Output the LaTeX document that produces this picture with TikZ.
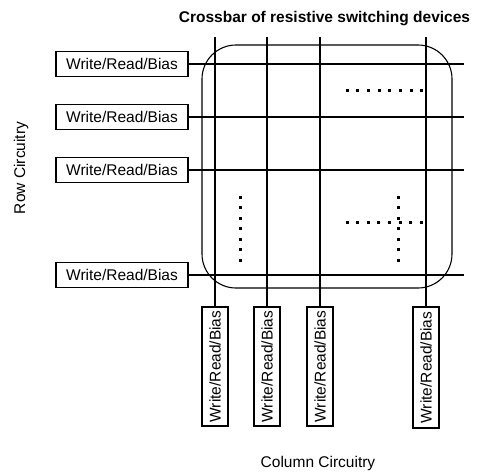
\documentclass[tikz,border=0pt]{standalone}
\usepackage{fontspec}
\setmainfont{Liberation Sans}
\begin{document}
\begin{tikzpicture}[x=1pt,y=-1pt,
  every path/.style={line width=1.1pt},
  ctrl/.style={draw, line width=1.1pt, minimum width=132pt, minimum height=25pt, inner sep=0pt, font=\fontsize{15.5}{17}\selectfont},
  ctrlv/.style={draw, line width=1.1pt, minimum width=119pt, minimum height=26pt, inner sep=0pt, rotate=90, font=\fontsize{15.5}{17}\selectfont},
  lbl/.style={font=\fontsize{15.5}{17}\selectfont, inner sep=0pt},
  dotm/.style={fill=black, inner sep=0pt, minimum size=3pt, draw=none}]
\useasboundingbox (0,0) rectangle (478,474);
% title
\node[lbl, font=\bfseries\fontsize{15.5}{17}\selectfont] (title) at (324.5,19) {Crossbar of resistive switching devices};
% rounded rectangle
\draw[rounded corners=34pt] (202,45) rectangle (452,288);
% row boxes
\node[ctrl] (r1) at (122,64) {Write/Read/Bias};
\node[ctrl] (r2) at (122,117) {Write/Read/Bias};
\node[ctrl] (r3) at (122,170) {Write/Read/Bias};
\node[ctrl] (r4) at (122,275) {Write/Read/Bias};
\coordinate (e1) at (464,64);
\coordinate (e2) at (464,117);
\coordinate (e3) at (464,170);
\coordinate (e4) at (464,275);
\foreach \i in {1,2,3,4} {\draw (r\i.east) -- (e\i);}
% column boxes
\node[ctrlv] (c1) at (215,366.5) {Write/Read/Bias};
\node[ctrlv] (c2) at (267,366.5) {Write/Read/Bias};
\node[ctrlv] (c3) at (320,366.5) {Write/Read/Bias};
\node[ctrlv, minimum width=121pt] (c4) at (426,367.5) {Write/Read/Bias};
\coordinate (t1) at (215,37);
\coordinate (t2) at (267,37);
\coordinate (t3) at (320,37);
\coordinate (t4) at (426,37);
\foreach \i in {1,2,3,4} {\draw (c\i.east) -- (t\i);}
% dots
\foreach \k in {0,...,7} {\node[dotm] (da\k) at (347+10.7*\k,90) {};}
\foreach \k in {0,...,7} {\node[dotm] (db\k) at (347+10.6*\k,222) {};}
\foreach \k in {0,...,6} {\node[dotm] (dc\k) at (240,197+10.5*\k) {};}
\foreach \k in {0,...,6} {\node[dotm] (dd\k) at (398,197+10.5*\k) {};}
% labels
\node[lbl, rotate=90] (rowc) at (21,168) {Row Circuitry};
\node[lbl] (colc) at (318,463) {Column Circuitry};
\end{tikzpicture}
\end{document}
